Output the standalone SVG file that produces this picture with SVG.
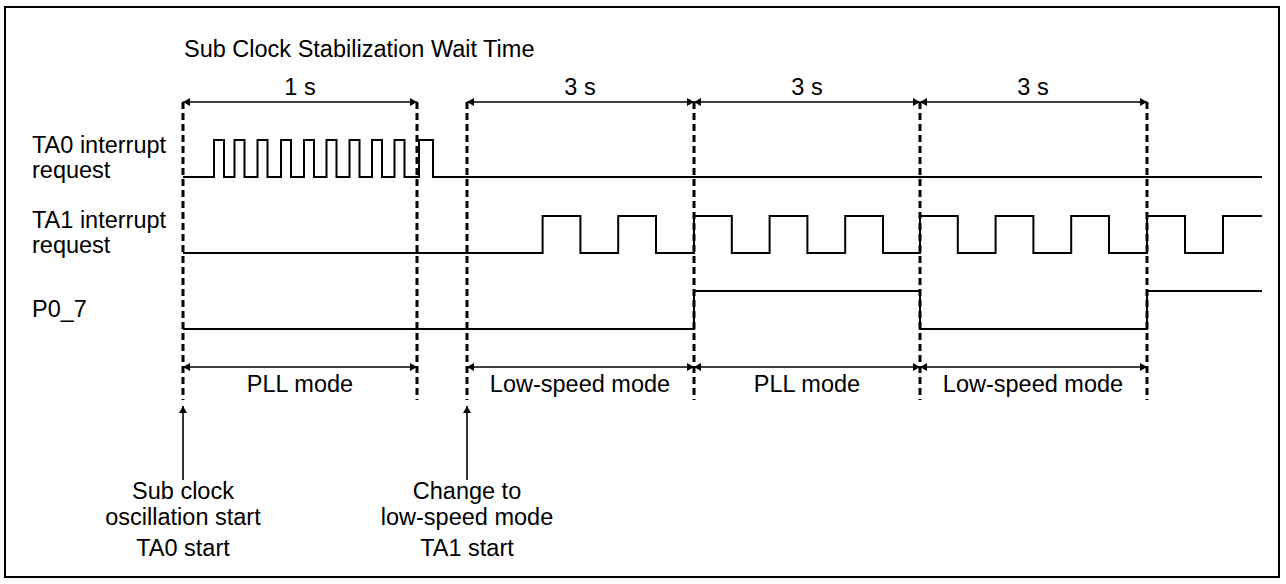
<svg xmlns="http://www.w3.org/2000/svg" width="1286" height="584" viewBox="0 0 1286 584">
<style>
text{font-family:"Liberation Sans",Arial,sans-serif;font-size:23.5px;fill:#000}
.c{text-anchor:middle}
.sig{fill:none;stroke:#000;stroke-width:2}
.dash{fill:none;stroke:#000;stroke-width:3;stroke-dasharray:7 4}
.dim{fill:none;stroke:#000;stroke-width:1.6}
</style>
<defs>
<marker id="ah" markerUnits="userSpaceOnUse" markerWidth="10" markerHeight="10" refX="7" refY="4.5" orient="auto-start-reverse">
<path d="M0,0.5 L7,4.5 L0,8.5 Z" fill="#000"/>
</marker>
</defs>
<rect x="5" y="7" width="1274" height="570" fill="#fff" stroke="#000" stroke-width="2"/>
<g id="title"><text x="184" y="57">Sub Clock Stabilization Wait Time</text></g>
<g id="labels">
<text x="32" y="153">TA0 interrupt</text>
<text x="32" y="178">request</text>
<text x="32" y="228">TA1 interrupt</text>
<text x="32" y="253">request</text>
<text x="32" y="317">P0_7</text>
</g>
<g id="guides">
<line class="dash" x1="183" y1="102" x2="183" y2="400"/>
<line class="dash" x1="417" y1="102" x2="417" y2="400"/>
<line class="dash" x1="467" y1="102" x2="467" y2="400"/>
<line class="dash" x1="694" y1="102" x2="694" y2="400"/>
<line class="dash" x1="920" y1="102" x2="920" y2="400"/>
<line class="dash" x1="1147" y1="102" x2="1147" y2="400"/>
</g>
<g id="ta0">
<path class="sig" d="M183,177 H214 V140 H224 V177 H234.5 V140 H244.5 V177 H257.5 V140 H267.5 V177 H281 V140 H291 V177 H304 V140 H314 V177 H326.5 V140 H336.5 V177 H349.5 V140 H359.5 V177 H372 V140 H382 V177 H394.5 V140 H404.5 V177 H419 V140 H433 V177 H1262"/>
</g>
<g id="ta1">
<path class="sig" d="M183,253 H542.6 V216 H580.4 V253 H618.2 V216 H656 V253 H694 V216 H731.8 V253 H769.6 V216 H807.4 V253 H845.2 V216 H883 V253 H920 V216 H957.8 V253 H995.6 V216 H1033.4 V253 H1071.2 V216 H1109 V253 H1147 V216 H1185 V253 H1223 V216 H1262"/>
</g>
<g id="p07">
<path class="sig" d="M183,329 H694 V291 H920 V329 H1147 V291 H1262"/>
</g>
<g id="connectors">
<line class="dim" x1="183" y1="102" x2="417" y2="102" marker-start="url(#ah)" marker-end="url(#ah)"/>
<line class="dim" x1="467" y1="102" x2="694" y2="102" marker-start="url(#ah)" marker-end="url(#ah)"/>
<line class="dim" x1="694" y1="102" x2="920" y2="102" marker-start="url(#ah)" marker-end="url(#ah)"/>
<line class="dim" x1="920" y1="102" x2="1147" y2="102" marker-start="url(#ah)" marker-end="url(#ah)"/>
<line class="dim" x1="183" y1="367" x2="417" y2="367" marker-start="url(#ah)" marker-end="url(#ah)"/>
<line class="dim" x1="467" y1="367" x2="694" y2="367" marker-start="url(#ah)" marker-end="url(#ah)"/>
<line class="dim" x1="694" y1="367" x2="920" y2="367" marker-start="url(#ah)" marker-end="url(#ah)"/>
<line class="dim" x1="920" y1="367" x2="1147" y2="367" marker-start="url(#ah)" marker-end="url(#ah)"/>
<line class="dim" x1="183" y1="480" x2="183" y2="406" marker-end="url(#ah)"/>
<line class="dim" x1="467" y1="480" x2="467" y2="406" marker-end="url(#ah)"/>
</g>
<g id="durations">
<text class="c" x="300" y="95">1 s</text>
<text class="c" x="580" y="95">3 s</text>
<text class="c" x="807" y="95">3 s</text>
<text class="c" x="1033" y="95">3 s</text>
</g>
<g id="modes">
<text class="c" x="300" y="392">PLL mode</text>
<text class="c" x="580" y="392">Low-speed mode</text>
<text class="c" x="807" y="392">PLL mode</text>
<text class="c" x="1033" y="392">Low-speed mode</text>
</g>
<g id="event1">
<text class="c" x="183" y="499">Sub clock</text>
<text class="c" x="183" y="525">oscillation start</text>
<text class="c" x="183" y="556">TA0 start</text>
</g>
<g id="event2">
<text class="c" x="467" y="499">Change to</text>
<text class="c" x="467" y="525">low-speed mode</text>
<text class="c" x="467" y="556">TA1 start</text>
</g>
</svg>
